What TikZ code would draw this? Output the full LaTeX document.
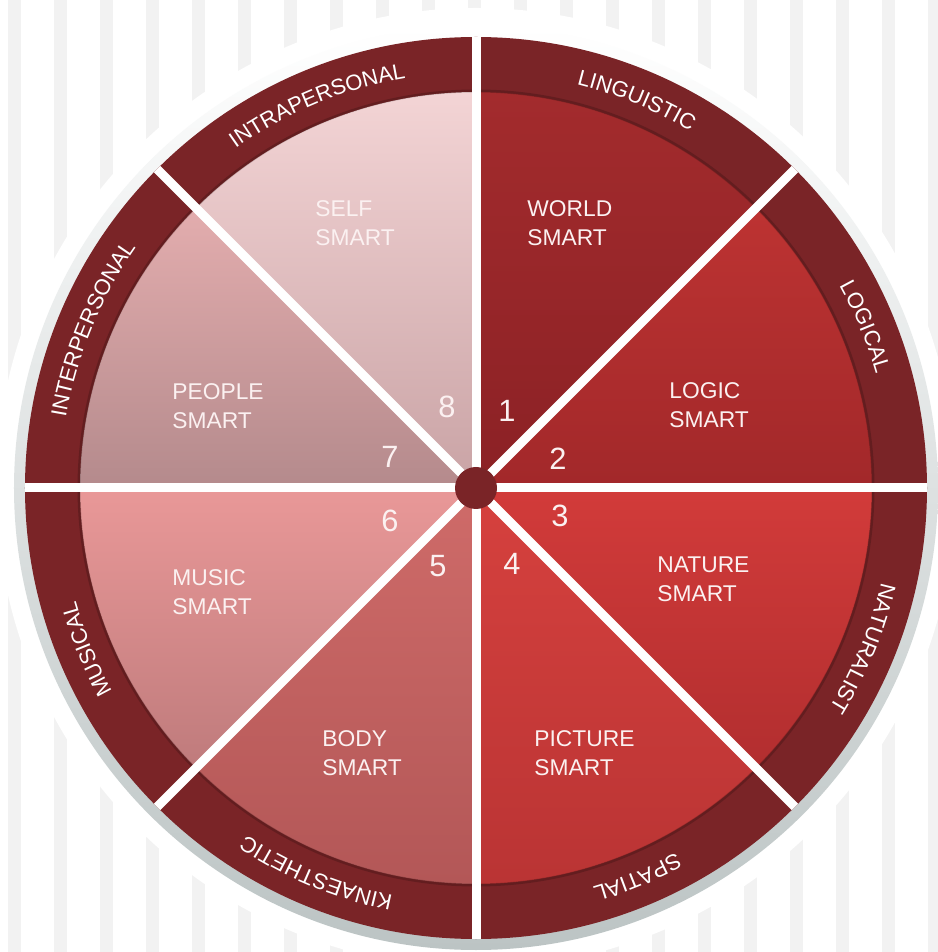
\documentclass[tikz,border=0pt]{standalone}
\usepackage{fontspec}
\setmainfont{Liberation Sans}
\usetikzlibrary{decorations.text}
\definecolor{ringred}{HTML}{7A2427}
\definecolor{stripegray}{HTML}{F2F2F2}
\definecolor{rimgray}{HTML}{BCC4C4}
\definecolor{labelwhite}{HTML}{FBF1F1}
\definecolor{wA}{HTML}{A32B2D}\definecolor{wAb}{HTML}{8B2125}
\definecolor{wB}{HTML}{BD3332}\definecolor{wBb}{HTML}{A2282A}
\definecolor{wC}{HTML}{D23B3A}\definecolor{wCb}{HTML}{B22E2F}
\definecolor{wD}{HTML}{D6413E}\definecolor{wDb}{HTML}{BA3434}
\definecolor{wE}{HTML}{CF6B69}\definecolor{wEb}{HTML}{B35757}
\definecolor{wF}{HTML}{E99898}\definecolor{wFb}{HTML}{BF7B7C}
\definecolor{wG}{HTML}{E3ADAE}\definecolor{wGb}{HTML}{B48A8C}
\definecolor{wH}{HTML}{F3D4D5}\definecolor{wHb}{HTML}{C9A3A5}
\newcommand{\ringfont}{\fontsize{11}{13}\selectfont}
\tikzset{
  smartlabel/.style={anchor=north west, align=left, inner sep=0pt, text=labelwhite,
    font=\fontsize{11.4}{14.5}\selectfont},
  numlabel/.style={anchor=base, inner sep=0pt, text=labelwhite,
    font=\fontsize{15.4}{18}\selectfont},
  gapline/.style={white, line width=4.5pt},
  ringtext/.style={decorate, decoration={text along path, text align=center,
    text color=white, text={|\ringfont|#1}}}
}
\begin{document}
\begin{tikzpicture}[x=0.5pt,y=0.5pt]
\useasboundingbox (-476,-464) rectangle (461,488);
\fill[white] (-476,-464) rectangle (461,488);
% background stripes
\foreach \i in {0,...,20} {
  \fill[stripegray] ({-468+\i*46},-464) rectangle ++(13,952);
}
% halo and rim
\fill[white] (0,0) circle[radius=480];
\shade[top color=white, bottom color=rimgray] (0,0) circle[radius=462];
% ring
\fill[ringred] (0,0) circle[radius=451];
% wedges
\shade[top color=wA, bottom color=wAb] (0,0) -- (90:396) arc[start angle=90, end angle=45, radius=396] -- cycle;
\shade[top color=wB, bottom color=wBb] (0,0) -- (45:396) arc[start angle=45, end angle=0, radius=396] -- cycle;
\shade[top color=wC, bottom color=wCb] (0,0) -- (0:396) arc[start angle=0, end angle=-45, radius=396] -- cycle;
\shade[top color=wD, bottom color=wDb] (0,0) -- (-45:396) arc[start angle=-45, end angle=-90, radius=396] -- cycle;
\shade[top color=wE, bottom color=wEb] (0,0) -- (-90:396) arc[start angle=-90, end angle=-135, radius=396] -- cycle;
\shade[top color=wF, bottom color=wFb] (0,0) -- (-135:396) arc[start angle=-135, end angle=-180, radius=396] -- cycle;
\shade[top color=wG, bottom color=wGb] (0,0) -- (180:396) arc[start angle=180, end angle=135, radius=396] -- cycle;
\shade[top color=wH, bottom color=wHb] (0,0) -- (135:396) arc[start angle=135, end angle=90, radius=396] -- cycle;
\draw[black, opacity=0.18, line width=1.5pt] (0,0) circle[radius=397];
% gaps
\foreach \a in {0,45,...,315} { \draw[gapline] (0,0) -- (\a:451); }
% centre dot
\fill[ringred] (0,0) circle[radius=21];
% ring labels (clockwise, tops outward)
\path[ringtext=LINGUISTIC] (90:416) arc[start angle=90, end angle=45, radius=416];
\path[ringtext=LOGICAL] (45:416) arc[start angle=45, end angle=0, radius=416];
\path[ringtext=NATURALIST] (0:416) arc[start angle=0, end angle=-45, radius=416];
\path[ringtext=SPATIAL] (-45:416) arc[start angle=-45, end angle=-90, radius=416];
\path[ringtext=KINAESTHETIC] (-90:416) arc[start angle=-90, end angle=-135, radius=416];
\path[ringtext=MUSICAL] (-135:416) arc[start angle=-135, end angle=-180, radius=416];
\path[ringtext=INTERPERSONAL] (180:416) arc[start angle=180, end angle=135, radius=416];
\path[ringtext=INTRAPERSONAL] (135:416) arc[start angle=135, end angle=90, radius=416];
% wedge labels
\node[smartlabel] (world) at (51,288) {WORLD\\SMART};
\node[smartlabel] (logic) at (193,106) {LOGIC\\SMART};
\node[smartlabel] (nature) at (181,-68) {NATURE\\SMART};
\node[smartlabel] (picture) at (58,-242) {PICTURE\\SMART};
\node[smartlabel] (body) at (-154,-242) {BODY\\SMART};
\node[smartlabel] (music) at (-304,-81) {MUSIC\\SMART};
\node[smartlabel] (people) at (-304,105) {PEOPLE\\SMART};
\node[smartlabel] (self) at (-161,288) {SELF\\SMART};
% numbers
\node[numlabel] (n1) at (31,66) {1};
\node[numlabel] (n2) at (82,18) {2};
\node[numlabel] (n3) at (84,-39) {3};
\node[numlabel] (n4) at (36,-87) {4};
\node[numlabel] (n5) at (-38,-89) {5};
\node[numlabel] (n6) at (-86,-44) {6};
\node[numlabel] (n7) at (-86,20) {7};
\node[numlabel] (n8) at (-29,70) {8};
\end{tikzpicture}
\end{document}
